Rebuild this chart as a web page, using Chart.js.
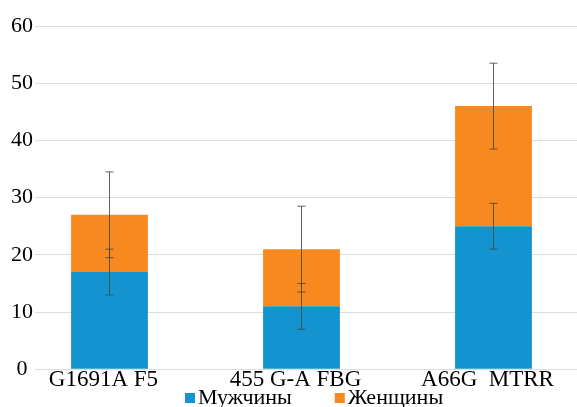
<!DOCTYPE html>
<html>
<head>
<meta charset="utf-8">
<script src="https://cdn.jsdelivr.net/npm/chart.js@4"></script>
<style>
    body { margin: 0; background: #fff; font-family: 'Liberation Serif', serif; }
    #wrap { width: 577px; height: 407px; }
</style>
</head>
<body>
<div id="wrap"><canvas id="chart" width="577" height="407"></canvas></div>
<script>
// данные с графика
const categories = ['G1691A F5', '455 G-A FBG', 'A66G  MTRR']
const seriesNames = ['Мужчины', 'Женщины']
const men = [17, 11, 25]
const women = [10, 10, 21]
const menErr = [4, 4, 4]
const womenErr = [7.5, 7.5, 7.5]
const yTicks = [0, 10, 20, 30, 40, 50, 60]

const blue = '#1394d1'
const orange = '#f7891f'
const serif = "'Liberation Serif', 'DejaVu Serif', serif"

// планки погрешностей
const errorBars = {
    id: 'errorBars',
    afterDatasetsDraw(chart) {
        const ctx = chart.ctx
        const y = chart.scales.y
        const errs = [menErr, womenErr]
        ctx.save()
        ctx.strokeStyle = 'rgba(70,70,70,0.85)'
        ctx.lineWidth = 1
        errs.forEach((err, d) => {
            chart.getDatasetMeta(d).data.forEach((bar, i) => {
                const px = Math.round(bar.x) + 0.5
                const dy = y.getPixelForValue(0) - y.getPixelForValue(err[i])
                const top = bar.y - dy
                const bottom = bar.y + dy
                ctx.beginPath()
                ctx.moveTo(px, top)
                ctx.lineTo(px, bottom)
                ctx.moveTo(px - 4, top)
                ctx.lineTo(px + 4, top)
                ctx.moveTo(px - 4, bottom)
                ctx.lineTo(px + 4, bottom)
                ctx.stroke()
            })
        })
        ctx.restore()
    }
}

// легенда внизу (свои отступы между элементами)
const bottomLegend = {
    id: 'bottomLegend',
    afterDraw(chart) {
        const ctx = chart.ctx
        ctx.save()
        ctx.font = '22px ' + serif
        ctx.textBaseline = 'middle'
        let x = 185
        const yMid = 398
        chart.data.datasets.forEach(ds => {
            ctx.fillStyle = ds.backgroundColor
            ctx.fillRect(x, yMid - 5, 10, 10)
            ctx.fillStyle = '#000'
            ctx.fillText(ds.label, x + 13, yMid)
            x += 13 + ctx.measureText(ds.label).width + 43
        })
        ctx.restore()
    }
}

new Chart('chart', {
    type: 'bar',
    data: {
        datasets: [
            {
                label: seriesNames[0],
                data: men.map((v, i) => ({ x: i, y: v })),
                backgroundColor: blue
            },
            {
                label: seriesNames[1],
                data: women.map((v, i) => ({ x: i, y: v })),
                backgroundColor: orange
            }
        ]
    },
    options: {
        responsive: false,
        animation: false,
        layout: { padding: { top: 26, right: 0, left: 0, bottom: 17 } },
        categoryPercentage: 1,
        barPercentage: 0.4,
        scales: {
            x: {
                type: 'linear',
                stacked: true,
                offset: false,
                min: -0.388,
                max: 2.435,
                grid: { display: false, drawTicks: false },
                border: { display: false },
                afterBuildTicks: s => { s.ticks = categories.map((c, i) => ({ value: i })) },
                ticks: {
                    callback: v => categories[v],
                    color: '#000',
                    padding: 0,
                    labelOffset: -6,
                    maxRotation: 0,
                    autoSkip: false,
                    font: { family: serif, size: 23, lineHeight: 0.9 }
                }
            },
            y: {
                stacked: true,
                min: 0,
                max: 60,
                afterBuildTicks: s => { s.ticks = yTicks.map(v => ({ value: v })) },
                afterFit: s => { s.width = 35 },
                grid: { color: '#dcdcdc', drawTicks: false },
                border: { display: false },
                ticks: {
                    color: '#000',
                    crossAlign: 'center',
                    padding: 2,
                    font: { family: serif, size: 22 }
                }
            }
        },
        plugins: {
            legend: { display: false },
            tooltip: { enabled: false }
        }
    },
    plugins: [errorBars, bottomLegend]
})
</script>
</body>
</html>
